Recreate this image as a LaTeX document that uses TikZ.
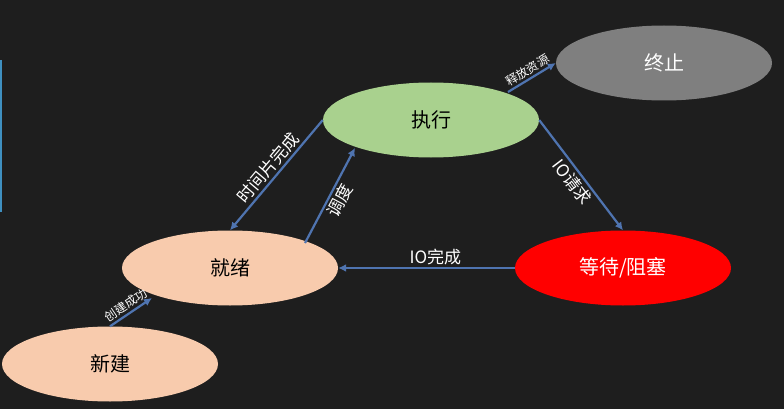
\documentclass[tikz,border=0pt]{standalone}
\usepackage{fontspec}
\setmainfont{Noto Sans CJK SC}
\usetikzlibrary{arrows.meta,shapes.geometric,calc}
\definecolor{bg}{HTML}{1E1E1E}
\definecolor{arr}{HTML}{4F74B0}
\definecolor{peach}{HTML}{F8CBAD}
\definecolor{lgreen}{HTML}{A9D18E}
\definecolor{gr}{HTML}{7F7F7F}
\begin{document}
\begin{tikzpicture}[x=1pt,y=-1pt,
  st/.style={ellipse,minimum width=216pt,minimum height=75pt,inner sep=0pt,font=\fontsize{20}{22}\selectfont},
  con/.style={draw=arr,line width=2.2pt,-{Latex[length=8pt,width=8pt]}},
  lab/.style={text=white,font=\fontsize{17}{19}\selectfont,inner sep=2pt},
  slab/.style={text=white,font=\fontsize{12}{14}\selectfont,inner sep=2pt}]
\fill[bg] (0,0) rectangle (784,409);
\useasboundingbox (0,0) rectangle (784,409);
\draw[draw=arr!80!cyan,line width=2pt] (1,60) -- (1,212);
\node[st,fill=lgreen] (run) at (431,120) {执行};
\node[st,fill=gr,text=white] (end) at (664,63) {终止};
\node[st,fill=peach] (ready) at (230,268) {就绪};
\node[st,fill=red,text=white] (wait) at (623,268) {等待/阻塞};
\node[st,fill=peach] (new) at (110,364) {新建};
\draw[con] (new.north) -- ($(ready.center)+(-78,30)$) node[slab,midway,above,sloped] {创建成功};
\draw[con] ($(ready.center)+(75,-25)$) -- ($(run.center)+(-76,28)$) node[lab,midway,below,sloped] {调度};
\draw[con] (run.west) -- (ready.north) node[lab,midway,above,sloped] {时间片完成};
\draw[con] ($(run.center)+(77,-28)$) -- (end.west) node[slab,midway,above,sloped] {释放资源};
\draw[con] (run.east) -- (wait.north) node[lab,midway,below,sloped] {IO请求};
\draw[con] (wait.west) -- (ready.east) node[lab,pos=0.45,above] {IO完成};
\end{tikzpicture}
\end{document}
